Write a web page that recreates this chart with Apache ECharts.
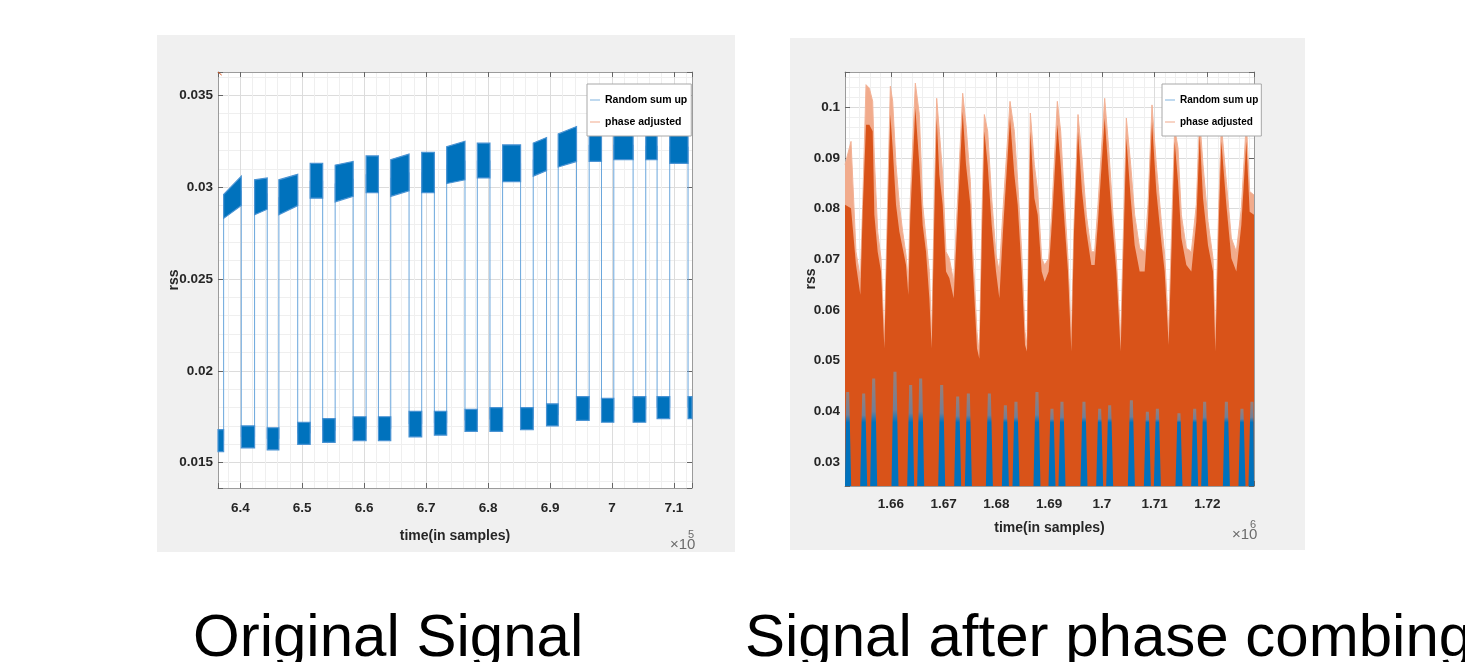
<!DOCTYPE html>
<html>
<head>
<meta charset="utf-8">
<title>Original signal vs phase combing</title>
<script src="https://cdn.jsdelivr.net/npm/echarts@6/dist/echarts.min.js"></script>
<style>
  html, body { margin: 0; padding: 0; background: #fff; }
  #chart { width: 1465px; height: 662px; }
</style>
</head>
<body>
<div id="chart"></div>
<script>
// ---- left plot: original signal (blue square wave with noise band) ----
// segment boundaries in samples; segment i runs origBreaks[i] .. origBreaks[i+1]
const origBreaks = [636405, 637313, 640161, 642310, 644350, 646230, 649270, 651283, 653300,
  655313, 658220, 660310, 662298, 664286, 667241, 669283, 671325, 673313, 676268, 678256,
  680298, 682339, 685240, 687282, 689431, 691312, 694268, 696310, 698298, 700285, 703401,
  705443, 707270, 709312, 712267, 712906];
// noise band of each segment: [low at start, high at start, low at end, high at end]
const origBands = [
  [0.0156, 0.0168, 0.0156, 0.0168], [0.0283, 0.0296, 0.0290, 0.0306],
  [0.0158, 0.0170, 0.0158, 0.0170], [0.0285, 0.0304, 0.0288, 0.0305],
  [0.0157, 0.0169, 0.0157, 0.0169], [0.0285, 0.0304, 0.0290, 0.0307],
  [0.0160, 0.0172, 0.0160, 0.0172], [0.0294, 0.0313, 0.0294, 0.0313],
  [0.0161, 0.0174, 0.0161, 0.0174], [0.0292, 0.0312, 0.0295, 0.0314],
  [0.0162, 0.0175, 0.0162, 0.0175], [0.0297, 0.0317, 0.0297, 0.0317],
  [0.0162, 0.0175, 0.0162, 0.0175], [0.0295, 0.0315, 0.0298, 0.0318],
  [0.0164, 0.0178, 0.0164, 0.0178], [0.0297, 0.0319, 0.0297, 0.0319],
  [0.0165, 0.0178, 0.0165, 0.0178], [0.0302, 0.0322, 0.0304, 0.0325],
  [0.0167, 0.0179, 0.0167, 0.0179], [0.0305, 0.0324, 0.0305, 0.0324],
  [0.0167, 0.0180, 0.0167, 0.0180], [0.0303, 0.0323, 0.0303, 0.0323],
  [0.0168, 0.0180, 0.0168, 0.0180], [0.0306, 0.0324, 0.0309, 0.0327],
  [0.0170, 0.0182, 0.0170, 0.0182], [0.0311, 0.0329, 0.0314, 0.0333],
  [0.0173, 0.0186, 0.0173, 0.0186], [0.0314, 0.0332, 0.0314, 0.0332],
  [0.0172, 0.0185, 0.0172, 0.0185], [0.0315, 0.0331, 0.0315, 0.0331],
  [0.0172, 0.0186, 0.0172, 0.0186], [0.0315, 0.0330, 0.0315, 0.0330],
  [0.0174, 0.0186, 0.0174, 0.0186], [0.0313, 0.0331, 0.0313, 0.0331],
  [0.0174, 0.0186, 0.0174, 0.0186]
];
// the orange trace only pokes into the top-left corner
const origPhase = [[636405, 0.03627], [637000, 0.0361]];

// ---- right plot: after phase combing ----
const combX = [1651283, 1652421, 1653369, 1654191, 1654633, 1655265, 1655898, 1656530, 1656846,
  1657478, 1658110, 1658742, 1659375, 1659880, 1660323, 1660955, 1661587, 1662219, 1662851,
  1663294, 1663673, 1664621, 1665380, 1666012, 1666644, 1667277, 1667719, 1668225, 1668667,
  1669173, 1669805, 1670437, 1671070, 1671891, 1672650, 1673598, 1674231, 1675052, 1675495,
  1676317, 1676759, 1677265, 1677707, 1678340, 1679098, 1679920, 1680552, 1681311, 1682575,
  1683397, 1684029, 1684788, 1685420, 1685799, 1686431, 1687190, 1687822, 1688581, 1689150,
  1689908, 1690540, 1691552, 1692184, 1692943, 1693575, 1694207, 1694713, 1695471, 1696230,
  1697052, 1698000, 1698632, 1699264, 1700529, 1701287, 1702109, 1702741, 1703563, 1704195,
  1704638, 1705460, 1706218, 1707166, 1708115, 1708747, 1709506, 1710328, 1711276, 1711908,
  1712667, 1713362, 1713805, 1714437, 1715069, 1716017, 1716966, 1717914, 1718546, 1719178,
  1720127, 1721075, 1721517, 1722150, 1722656, 1723604, 1724552, 1725500, 1726448, 1727396,
  1728029, 1728850];
// light outer fringe of the orange trace
const combFringe = [0.0887, 0.0933, 0.0715, 0.0663, 0.0808, 0.1045, 0.1038, 0.1012, 0.0900,
  0.0755, 0.0702, 0.0537, 0.0821, 0.1042, 0.1012, 0.0887, 0.0808, 0.0755, 0.0709,
  0.0656, 0.0821, 0.1048, 0.0986, 0.0808, 0.0742, 0.0676, 0.0544, 0.0821, 0.1018,
  0.0953, 0.0867, 0.0715, 0.0702, 0.0656, 0.0821, 0.1028, 0.0966, 0.0854, 0.0722,
  0.0557, 0.0511, 0.0788, 0.0986, 0.0953, 0.0821, 0.0709, 0.0676, 0.0808, 0.1012,
  0.0953, 0.0854, 0.0715, 0.0557, 0.0531, 0.0989, 0.0887, 0.0834, 0.0702, 0.0689,
  0.0702, 0.0801, 0.1012, 0.0953, 0.0808, 0.0702, 0.0544, 0.0768, 0.0986, 0.0900,
  0.0788, 0.0715, 0.0715, 0.0808, 0.1018, 0.0920, 0.0788, 0.0702, 0.0544, 0.0801,
  0.0979, 0.0887, 0.0788, 0.0722, 0.0715, 0.0808, 0.1005, 0.0887, 0.0775, 0.0709,
  0.0557, 0.0808, 0.0959, 0.0920, 0.0788, 0.0722, 0.0715, 0.0808, 0.0979, 0.0887,
  0.0775, 0.0702, 0.0544, 0.0801, 0.0966, 0.0854, 0.0742, 0.0715, 0.0801, 0.0972,
  0.0834, 0.0827];
// solid body of the orange trace
const combCore = [0.0808, 0.0801, 0.0689, 0.0630, 0.0794, 0.0966, 0.0966, 0.0953, 0.0788,
  0.0715, 0.0676, 0.0524, 0.0788, 0.0986, 0.0920, 0.0808, 0.0755, 0.0722, 0.0689,
  0.0630, 0.0788, 0.0999, 0.0887, 0.0768, 0.0715, 0.0623, 0.0524, 0.0788, 0.0979,
  0.0867, 0.0808, 0.0676, 0.0663, 0.0623, 0.0788, 0.0992, 0.0887, 0.0808, 0.0689,
  0.0524, 0.0504, 0.0755, 0.0953, 0.0887, 0.0768, 0.0676, 0.0623, 0.0768, 0.0979,
  0.0867, 0.0808, 0.0676, 0.0531, 0.0518, 0.0953, 0.0821, 0.0788, 0.0676, 0.0656,
  0.0676, 0.0775, 0.0966, 0.0887, 0.0768, 0.0676, 0.0518, 0.0755, 0.0953, 0.0834,
  0.0755, 0.0689, 0.0689, 0.0775, 0.0979, 0.0867, 0.0755, 0.0676, 0.0518, 0.0768,
  0.0939, 0.0821, 0.0728, 0.0676, 0.0676, 0.0775, 0.0972, 0.0834, 0.0735, 0.0676,
  0.0531, 0.0775, 0.0933, 0.0854, 0.0742, 0.0689, 0.0676, 0.0775, 0.0946, 0.0821,
  0.0728, 0.0676, 0.0518, 0.0768, 0.0933, 0.0808, 0.0702, 0.0676, 0.0768, 0.0933,
  0.0794, 0.0788];
// blue spikes of "Random sum up" that show through at the bottom
const spikeX = [1651788, 1654823, 1656719, 1660759, 1663736, 1665633, 1669615, 1672650, 1674679,
  1678662, 1681696, 1683706, 1687689, 1690534, 1692430, 1696602, 1699580, 1701476,
  1705592, 1708626, 1710523, 1714619, 1717597, 1719493, 1723609, 1726567, 1728464];
const spikeTop = [0.0438, 0.0435, 0.0465, 0.0478, 0.0452, 0.0465, 0.0452, 0.0429, 0.0435,
  0.0435, 0.0412, 0.0419, 0.0438, 0.0405, 0.0419, 0.0419, 0.0405, 0.0412,
  0.0422, 0.0399, 0.0405, 0.0396, 0.0405, 0.0419, 0.0419, 0.0405, 0.0419];

// axis ranges
const leftX = [636405, 712906], leftY = [0.01362, 0.03627];
const rightX = [1651280, 1728850], rightY = [0.02525, 0.1070];

const BLUE = '#0072BD';
const ORANGE = '#D95319';
const SANS = '"Liberation Sans", Arial, sans-serif';

function tickFmt(step, scale) {
  return function (v) {
    const k = v / step;
    if (Math.abs(k - Math.round(k)) > 1e-6) return '';
    return String(parseFloat((v / scale).toFixed(4)));
  };
}

// three axes per side: minor grid helper, main labelled axis, mirrored tick-only axis
function axisSet(grid, range, step, scale, pos, mirror, name, nameGap, margin) {
  const base = { type: 'value', gridIndex: grid, min: range[0], max: range[1] };
  const minor = Object.assign({}, base, {
    position: mirror, splitNumber: 40, minInterval: step / 5, maxInterval: step / 5,
    axisLine: { show: false }, axisTick: { show: false }, axisLabel: { show: false },
    splitLine: { show: true, lineStyle: { color: '#efefef', width: 1 } }
  });
  const main = Object.assign({}, base, {
    position: pos, splitNumber: 8, minInterval: step, maxInterval: step,
    axisLine: { show: true, onZero: false, lineStyle: { color: '#9b9b9b' } },
    axisTick: { show: true, inside: true, length: 5, lineStyle: { color: '#666' } },
    axisLabel: {
      formatter: tickFmt(step, scale), margin: margin, color: '#262626',
      fontFamily: SANS, fontWeight: 'bold', fontSize: 13.5
    },
    splitLine: { show: true, lineStyle: { color: '#dcdcdc', width: 1 } },
    name: name, nameLocation: 'middle', nameGap: nameGap, nameMoveOverlap: false,
    nameTextStyle: { fontFamily: SANS, fontWeight: 'bold', fontSize: 14, color: '#262626' }
  });
  const mir = Object.assign({}, base, {
    position: mirror, splitNumber: 8, minInterval: step, maxInterval: step,
    axisLine: { show: true, onZero: false, lineStyle: { color: '#9b9b9b' } },
    axisTick: { show: true, inside: true, length: 5, lineStyle: { color: '#666' } },
    axisLabel: { show: false }, splitLine: { show: false }
  });
  return [minor, main, mir];
}

// polygons for the noise bands of the original signal
const bandData = origBands.map((b, i) => [origBreaks[i], origBreaks[i + 1], b[0], b[1], b[2], b[3]]);
// thin trace through band middles; draws the vertical transitions
const traceData = [];
origBands.forEach((b, i) => {
  traceData.push([origBreaks[i], (b[0] + b[1]) / 2]);
  traceData.push([origBreaks[i + 1], (b[2] + b[3]) / 2]);
});

function renderBand(params, api) {
  const x0 = api.value(0), x1 = api.value(1);
  const pts = [
    api.coord([x0, api.value(2)]), api.coord([x1, api.value(4)]),
    api.coord([x1, api.value(5)]), api.coord([x0, api.value(3)])
  ];
  return {
    type: 'polygon',
    shape: { points: echarts.graphic.clipPointsByRect(pts, params.coordSys) },
    style: { fill: BLUE, stroke: '#4a93d3', lineWidth: 1.2 }
  };
}

function renderSpike(params, api) {
  const x = api.value(0), top = api.value(1);
  const b = api.coord([x, rightY[0]]);
  const t = api.coord([x, top]);
  const pts = [[b[0] - 3.5, b[1]], [b[0] + 3.5, b[1]], [t[0] + 1.5, t[1]], [t[0] - 1.5, t[1]]];
  const f = Math.max(0.05, Math.min(0.9, (top - 0.0378) / (top - rightY[0])));
  return {
    type: 'polygon',
    shape: { points: echarts.graphic.clipPointsByRect(pts, params.coordSys) },
    style: {
      fill: new echarts.graphic.LinearGradient(0, 0, 0, 1, [
        { offset: 0, color: '#9a7f78' },
        { offset: f * 0.75, color: '#6f7f98' },
        { offset: f, color: BLUE },
        { offset: 1, color: BLUE }
      ])
    }
  };
}

const xa = axisSet(0, leftX, 10000, 1e5, 'bottom', 'top', 'time(in samples)', 41, 13)
  .concat(axisSet(1, rightX, 10000, 1e6, 'bottom', 'top', 'time(in samples)', 35, 11));
const ya = axisSet(0, leftY, 0.005, 1, 'left', 'right', 'rss', 37, 5)
  .concat(axisSet(1, rightY, 0.01, 1, 'left', 'right', 'rss', 27, 5));

function legendAt(left, top, fontSize, pad) {
  return {
    left: left, top: top, orient: 'vertical', icon: 'rect',
    itemWidth: 10, itemHeight: 1, itemGap: 8, selectedMode: false, z: 10,
    backgroundColor: '#fff', borderColor: '#a8a8a8', borderWidth: 1, borderRadius: 0,
    padding: pad,
    textStyle: { fontFamily: SANS, fontWeight: 'bold', fontSize: fontSize, color: '#000', lineHeight: 14 },
    data: [
      { name: 'Random sum up', itemStyle: { color: '#7fb2de' } },
      { name: 'phase adjusted', itemStyle: { color: '#f0a88b' } }
    ]
  };
}

const option = {
  animation: false,
  backgroundColor: '#fff',
  grid: [
    { left: 218, top: 72, width: 474, height: 416, show: true, backgroundColor: '#fff', borderWidth: 0, containLabel: false, outerBoundsMode: 'none' },
    { left: 845, top: 72, width: 409, height: 414, show: true, backgroundColor: '#fff', borderWidth: 0, containLabel: false, outerBoundsMode: 'none' }
  ],
  xAxis: xa,
  yAxis: ya,
  legend: [legendAt(587, 84, 10.5, [9, 4, 7, 3]), legendAt(1162, 84, 10, [9, 3, 7, 3])],
  graphic: [
    { type: 'rect', z: -10, silent: true, shape: { x: 157, y: 35, width: 578, height: 517 }, style: { fill: '#f0f0f0' } },
    { type: 'rect', z: -10, silent: true, shape: { x: 790, y: 38, width: 515, height: 512 }, style: { fill: '#f0f0f0' } },
    { type: 'text', x: 670, y: 545, style: { text: '\u00d710', font: '15px ' + SANS, fill: '#6b6b6b', verticalAlign: 'middle' } },
    { type: 'text', x: 688, y: 535, style: { text: '5', font: '11px ' + SANS, fill: '#6b6b6b', verticalAlign: 'middle' } },
    { type: 'text', x: 1232, y: 535, style: { text: '\u00d710', font: '15px ' + SANS, fill: '#6b6b6b', verticalAlign: 'middle' } },
    { type: 'text', x: 1250, y: 525, style: { text: '6', font: '11px ' + SANS, fill: '#6b6b6b', verticalAlign: 'middle' } },
    { type: 'text', x: 193, y: 639, style: { text: 'Original Signal', font: '60px ' + SANS, fill: '#000', verticalAlign: 'middle' } },
    { type: 'text', x: 745, y: 639, style: { text: 'Signal after phase combing', font: '60px ' + SANS, fill: '#000', verticalAlign: 'middle' } }
  ],
  series: [
    {
      name: 'Random sum up', type: 'line', xAxisIndex: 1, yAxisIndex: 1, z: 1,
      data: traceData, symbol: 'none', silent: true,
      lineStyle: { color: '#6aa6dc', width: 1 }
    },
    {
      name: 'Random sum up', type: 'custom', xAxisIndex: 1, yAxisIndex: 1, z: 2,
      renderItem: renderBand, data: bandData, silent: true,
      encode: { x: [0, 1], y: [2, 3, 4, 5] }, itemStyle: { color: BLUE }
    },
    {
      name: 'phase adjusted', type: 'line', xAxisIndex: 1, yAxisIndex: 1, z: 3,
      data: origPhase, symbol: 'none', silent: true,
      lineStyle: { color: ORANGE, width: 1 }
    },
    {
      name: 'phase adjusted', type: 'line', xAxisIndex: 4, yAxisIndex: 4, z: 1,
      data: combX.map((x, i) => [x, combFringe[i]]), symbol: 'none', silent: true,
      lineStyle: { color: '#f3b296', width: 1 },
      areaStyle: { color: '#f1ab8c', opacity: 1, origin: 'start' }
    },
    {
      name: 'phase adjusted', type: 'line', xAxisIndex: 4, yAxisIndex: 4, z: 2,
      data: combX.map((x, i) => [x, combCore[i]]), symbol: 'none', silent: true,
      lineStyle: { width: 0, color: ORANGE },
      areaStyle: { color: ORANGE, opacity: 1, origin: 'start' }
    },
    {
      name: 'Random sum up', type: 'custom', xAxisIndex: 4, yAxisIndex: 4, z: 3,
      renderItem: renderSpike, data: spikeX.map((x, i) => [x, spikeTop[i]]), silent: true,
      encode: { x: 0, y: 1 }, itemStyle: { color: BLUE }
    }
  ]
};

const chart = echarts.init(document.getElementById('chart'));
chart.setOption(option);
window.addEventListener('resize', () => chart.resize());
</script>
</body>
</html>
